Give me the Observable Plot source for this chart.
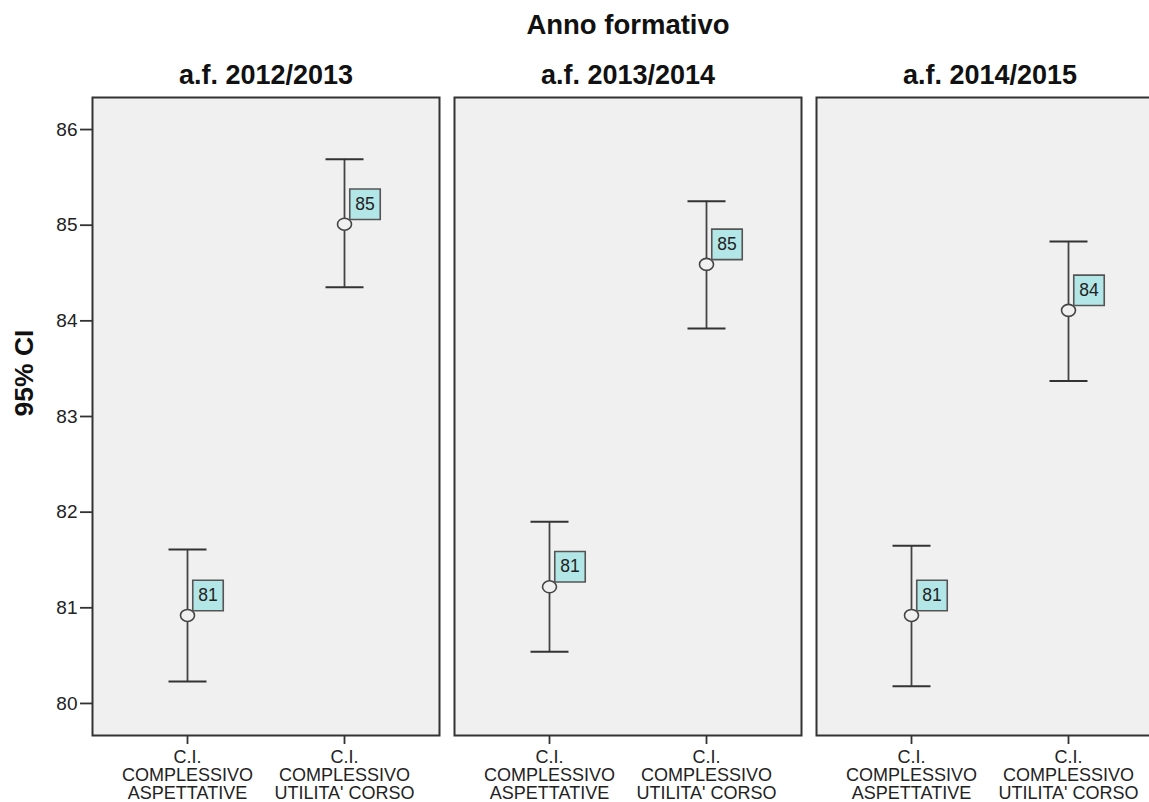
<!DOCTYPE html>
<html>
<head>
<meta charset="utf-8">
<script src="https://cdn.jsdelivr.net/npm/d3@7"></script>
<script src="https://cdn.jsdelivr.net/npm/@observablehq/plot@0.6"></script>
<style>
  html, body { margin: 0; padding: 0; overflow: hidden; background: white; }
  #chart svg { max-width: none !important; display: block; }
</style>
</head>
<body>
<div id="chart"></div>
<script>
// ---- data ----
const years = ["a.f. 2012/2013", "a.f. 2013/2014", "a.f. 2014/2015"];
const categories = ["ASP", "UTIL"];
const xTickLabels = ["C.I.\nCOMPLESSIVO\nASPETTATIVE", "C.I.\nCOMPLESSIVO\nUTILITA' CORSO"];

const aspMean = [80.92, 81.22, 80.92];
const aspLow  = [80.23, 80.54, 80.18];
const aspHigh = [81.61, 81.90, 81.65];
const aspLabel = ["81", "81", "81"];

const utilMean = [85.01, 84.59, 84.11];
const utilLow  = [84.35, 83.92, 83.37];
const utilHigh = [85.69, 85.25, 84.83];
const utilLabel = ["85", "85", "84"];

const yTicks = [80, 81, 82, 83, 84, 85, 86];
const chartTitle = "Anno formativo";
const yTitle = "95% CI";

// ---- table for the library ----
const rows = years.flatMap((yr, i) => [
  {year: yr, cat: categories[0], mean: aspMean[i], low: aspLow[i], high: aspHigh[i], label: aspLabel[i]},
  {year: yr, cat: categories[1], mean: utilMean[i], low: utilLow[i], high: utilHigh[i], label: utilLabel[i]}
]);

// custom symbols
const capSymbol = {
  draw(ctx, size) {
    const h = Math.sqrt(size / Math.PI);
    ctx.moveTo(-h, 0); ctx.lineTo(h, 0);
  }
};
const ellipseSymbol = {
  draw(ctx, size) {
    const rx = 7, ry = 6, k = 0.5523;
    ctx.moveTo(rx, 0);
    ctx.bezierCurveTo(rx, ry * k, rx * k, ry, 0, ry);
    ctx.bezierCurveTo(-rx * k, ry, -rx, ry * k, -rx, 0);
    ctx.bezierCurveTo(-rx, -ry * k, -rx * k, -ry, 0, -ry);
    ctx.bezierCurveTo(rx * k, -ry, rx, -ry * k, rx, 0);
    ctx.closePath();
  }
};
const leaderSymbol = {
  draw(ctx, size) {
    ctx.moveTo(4.5, -4.5); ctx.lineTo(8, -7);
  }
};

const font = "'Liberation Sans', Arial, sans-serif";

const chart = Plot.plot({
  width: 1175,
  height: 802,
  marginLeft: 92,
  marginRight: 12,
  marginTop: 97,
  marginBottom: 67,
  style: {fontFamily: font, background: "white", color: "#222"},
  fx: {domain: years, paddingInner: 0.0415, paddingOuter: 0, axis: null},
  x: {type: "point", domain: categories, padding: 0.6, axis: null},
  y: {domain: [79.665, 86.335], axis: null},
  marks: [
    Plot.frame({fill: "#f0f0f0", stroke: "#333", strokeWidth: 2}),
    Plot.axisY({ticks: yTicks, tickSize: 12, tickPadding: 3, fontSize: 19, stroke: "#333", strokeWidth: 1.8, fill: "#222", label: null, tickFormat: d => String(d)}),
    Plot.axisX({tickSize: 9, tickPadding: 6, fontSize: 18, lineHeight: 1, stroke: "#333", strokeWidth: 1.8, fill: "#222", label: null, tickFormat: d => xTickLabels[categories.indexOf(d)]}),
    // facet titles
    Plot.text(years, {fx: d => d, text: d => d, frameAnchor: "top", dy: -22, lineAnchor: "middle", fontSize: 27, fontWeight: "bold", fill: "#111"}),
    // overall title over middle facet
    Plot.text([years[1]], {fx: d => d, text: [chartTitle], frameAnchor: "top", dy: -72, lineAnchor: "middle", fontSize: 27.5, fontWeight: "bold", fill: "#111"}),
    // y title left of first facet
    Plot.text([years[0]], {fx: d => d, text: [yTitle], frameAnchor: "left", dx: -68, rotate: -90, lineAnchor: "middle", fontSize: 26.5, fontWeight: "bold", fill: "#111"}),
    // error bars
    Plot.ruleX(rows, {fx: "year", x: "cat", y1: "low", y2: "high", stroke: "#444", strokeWidth: 1.8}),
    Plot.dot(rows, {fx: "year", x: "cat", y: "high", symbol: capSymbol, r: 19, fill: "none", stroke: "#333", strokeWidth: 2}),
    Plot.dot(rows, {fx: "year", x: "cat", y: "low", symbol: capSymbol, r: 19, fill: "none", stroke: "#333", strokeWidth: 2}),
    // leader line + mean circle
    Plot.dot(rows, {fx: "year", x: "cat", y: "mean", symbol: leaderSymbol, r: 1, fill: "none", stroke: "#444", strokeWidth: 1.6}),
    Plot.dot(rows, {fx: "year", x: "cat", y: "mean", symbol: ellipseSymbol, r: 1, fill: "#f0f0f0", stroke: "#444", strokeWidth: 1.6}),
    // label boxes
    Plot.dot(rows, {fx: "year", x: "cat", y: "mean", symbol: "square", r: 17.2, dx: 20.5, dy: -20, fill: "#b3e6e6", stroke: "#555", strokeWidth: 1.6}),
    Plot.text(rows, {fx: "year", x: "cat", y: "mean", text: "label", dx: 20.5, dy: -20, fontSize: 17.5, fill: "#222"})
  ]
});

document.getElementById("chart").appendChild(chart);
</script>
</body>
</html>
